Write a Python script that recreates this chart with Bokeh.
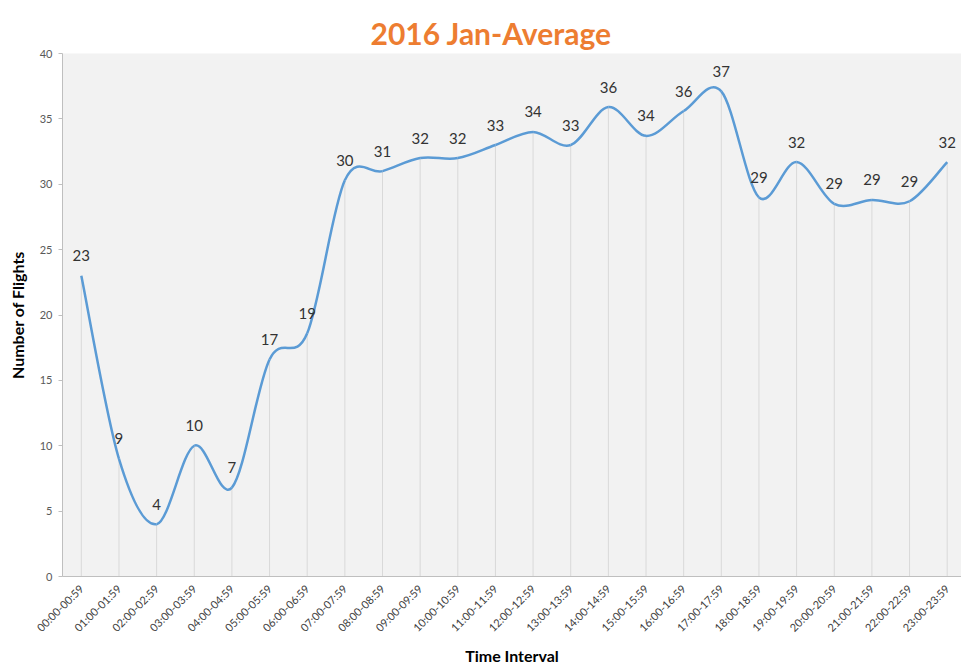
import math
from bokeh.plotting import figure
from bokeh.models import FixedTicker, ColumnDataSource, Range1d
from bokeh.embed import file_html
from bokeh.resources import INLINE
from bokeh.core.properties import value

intervals = ["00:00-00:59", "01:00-01:59", "02:00-02:59", "03:00-03:59", "04:00-04:59",
             "05:00-05:59", "06:00-06:59", "07:00-07:59", "08:00-08:59", "09:00-09:59",
             "10:00-10:59", "11:00-11:59", "12:00-12:59", "13:00-13:59", "14:00-14:59",
             "15:00-15:59", "16:00-16:59", "17:00-17:59", "18:00-18:59", "19:00-19:59",
             "20:00-20:59", "21:00-21:59", "22:00-22:59", "23:00-23:59"]
flights = [23.0, 9.0, 4.0, 10.0, 6.8, 16.6, 18.6, 30.3, 31.0, 32.0, 32.0, 33.0,
           34.0, 33.0, 35.9, 33.7, 35.6, 37.1, 29.0, 31.7, 28.5, 28.8, 28.7, 31.7]
y_ticks = [0, 5, 10, 15, 20, 25, 30, 35, 40]

FONT = "Lato"
xs = list(range(len(intervals)))

p = figure(width=961, height=668, output_backend="svg", toolbar_location=None,
           x_range=Range1d(-0.5, 23.38), y_range=Range1d(0, 40),
           min_border_left=62, min_border_right=0, min_border_top=53, min_border_bottom=92,
           title="2016 Jan-Average")
p.title.text_font = FONT
p.title.text_font_size = "30px"
p.title.text_font_style = "bold"
p.title.text_color = "#ED7D31"
p.title.align = "left"
p.title.offset = 308
p.title.standoff = 6
p.background_fill_color = "#F2F2F2"
p.border_fill_color = "white"
p.outline_line_color = None
p.xgrid.grid_line_color = None
p.ygrid.grid_line_color = None

# drop lines
p.segment(x0=xs, y0=[0] * len(xs), x1=xs, y1=flights, line_color="#D9D9D9", line_width=1)

# smoothed line (Catmull-Rom style bezier through data points)
n = len(flights)
x0s, y0s, x1s, y1s, cx0, cy0, cx1, cy1 = [], [], [], [], [], [], [], []
for i in range(n - 1):
    pxm, pym = (xs[i - 1], flights[i - 1]) if i > 0 else (xs[i], flights[i])
    pxp, pyp = (xs[i + 2], flights[i + 2]) if i + 2 < n else (xs[i + 1], flights[i + 1])
    x0s.append(xs[i]); y0s.append(flights[i])
    x1s.append(xs[i + 1]); y1s.append(flights[i + 1])
    cx0.append(xs[i] + (xs[i + 1] - pxm) / 6.0)
    cy0.append(flights[i] + (flights[i + 1] - pym) / 6.0)
    cx1.append(xs[i + 1] - (pxp - xs[i]) / 6.0)
    cy1.append(flights[i + 1] - (pyp - flights[i]) / 6.0)
p.bezier(x0=x0s, y0=y0s, x1=x1s, y1=y1s, cx0=cx0, cy0=cy0, cx1=cx1, cy1=cy1,
         line_color="#5B9BD5", line_width=2.5)

labels = [str(int(math.floor(v + 0.5))) for v in flights]
src = ColumnDataSource(dict(x=xs, y=flights, t=labels))
p.text(x="x", y="y", text="t", source=src, text_align="center", text_baseline="middle",
       y_offset=-20, text_font=value(FONT), text_font_size="15px", text_color="#333333")

# axes
p.xaxis.ticker = FixedTicker(ticks=xs)
p.xaxis.major_label_overrides = {i: s for i, s in enumerate(intervals)}
p.xaxis.major_label_orientation = math.pi / 4
p.xaxis.major_label_text_font = FONT
p.xaxis.major_label_text_font_size = "11px"
p.xaxis.major_label_text_color = "#404040"
p.xaxis.major_tick_line_color = None
p.xaxis.minor_tick_line_color = None
p.xaxis.axis_line_color = "#BFBFBF"
p.xaxis.major_label_standoff = 4
p.xaxis.axis_label = "Time Interval"
p.xaxis.axis_label_text_font = FONT
p.xaxis.axis_label_text_font_size = "16px"
p.xaxis.axis_label_text_font_style = "bold"
p.xaxis.axis_label_text_color = "black"
p.xaxis.axis_label_standoff = 4

p.yaxis.ticker = FixedTicker(ticks=y_ticks)
p.yaxis.major_label_text_font = FONT
p.yaxis.major_label_text_font_size = "11px"
p.yaxis.major_label_text_color = "#595959"
p.yaxis.major_tick_line_color = "#BFBFBF"
p.yaxis.major_tick_in = 0
p.yaxis.major_tick_out = 4
p.yaxis.minor_tick_line_color = None
p.yaxis.axis_line_color = "#BFBFBF"
p.yaxis.major_label_standoff = 6
p.yaxis.axis_label = "Number of Flights"
p.yaxis.axis_label_text_font = FONT
p.yaxis.axis_label_text_font_size = "16px"
p.yaxis.axis_label_text_font_style = "bold"
p.yaxis.axis_label_text_color = "black"
p.yaxis.axis_label_standoff = 10

open("out.html", "w").write(file_html(p, INLINE))
